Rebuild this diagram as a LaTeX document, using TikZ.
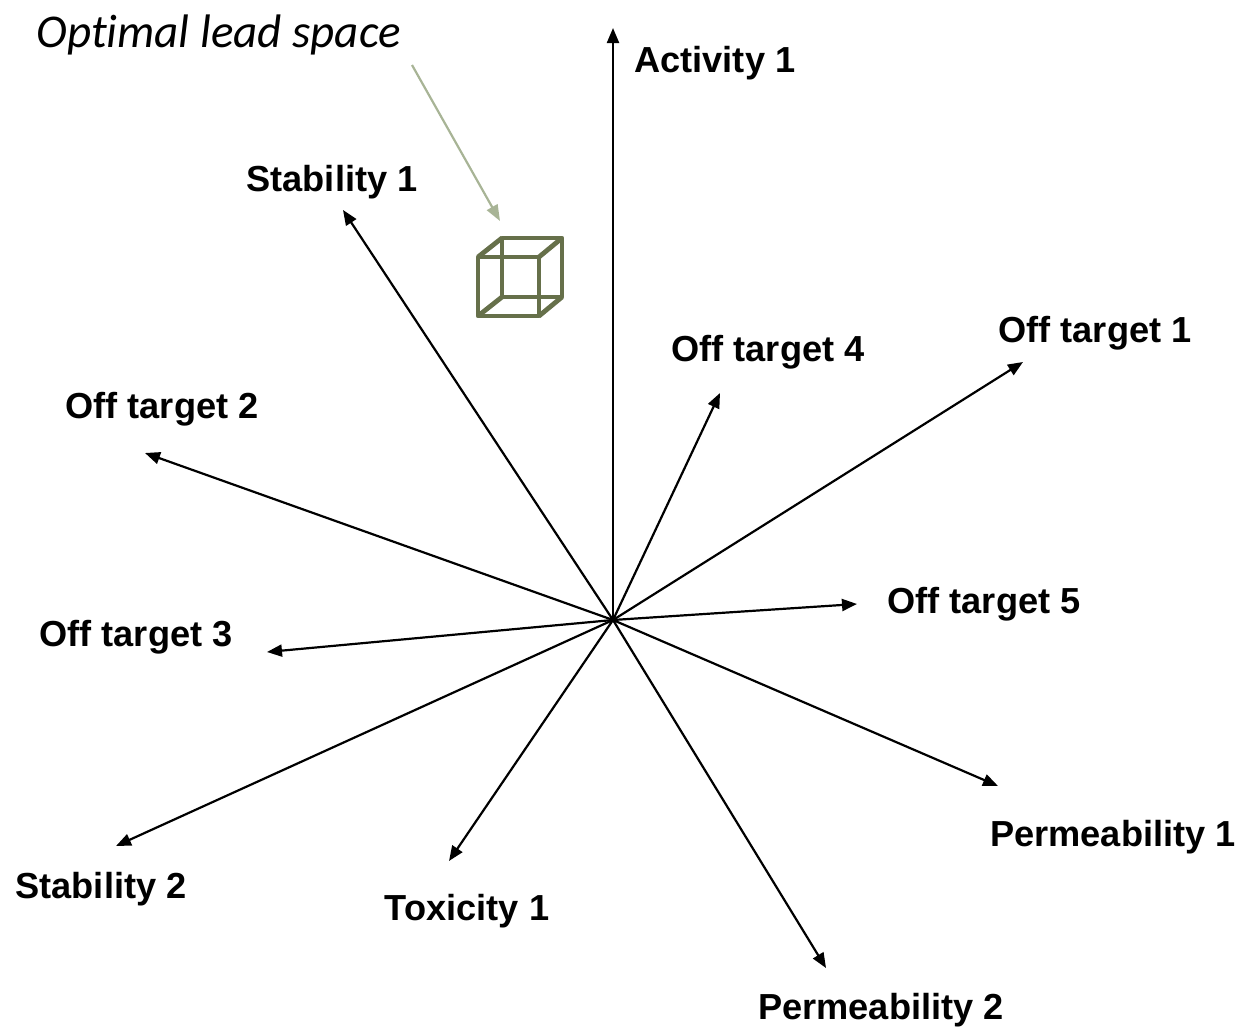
\documentclass[tikz,border=0pt]{standalone}
\usepackage{fontspec}
\setmainfont{Liberation Sans}
\newfontfamily\calib[Ligatures=NoCommon]{Carlito}
\usetikzlibrary{arrows.meta}
\tikzset{
  axis/.style={line width=1.1pt,-{Triangle[length=7.5pt,width=6pt]}},
  lbl/.style={font=\fontsize{18.1}{20}\selectfont\bfseries,inner sep=0pt},
  cubeline/.style={draw={rgb,255:red,102;green,112;blue,74},line width=2.4pt,line join=round}
}
\begin{document}
\begin{tikzpicture}[x=0.5pt,y=-0.5pt]
\useasboundingbox (0,0) rectangle (1243,1028);
\coordinate (c) at (613,620);
\coordinate (tA1) at (613,28);
\coordinate (tS1) at (343,210);
\coordinate (tO4) at (720,393);
\coordinate (tO1) at (1023,362);
\coordinate (tO2) at (145,453);
\coordinate (tO5) at (857,604);
\coordinate (tO3) at (267,652);
\coordinate (tS2) at (116,846);
\coordinate (tT1) at (449,861);
\coordinate (tP2) at (826,968);
\coordinate (tP1) at (998,786);
\foreach \t in {tA1,tS1,tO4,tO1,tO2,tO5,tO3,tS2,tT1,tP2,tP1}
  \draw[axis] (c) -- (\t);
\node[lbl,anchor=west] (A1) at (634,63) {Activity 1};
\node[lbl] (S1) at (332,182) {Stability 1};
\node[lbl] (O4) at (768,352) {Off target 4};
\node[lbl] (O1) at (1095,333) {Off target 1};
\node[lbl] (O2) at (162,409) {Off target 2};
\node[lbl] (O5) at (984,604) {Off target 5};
\node[lbl] (O3) at (136,637) {Off target 3};
\node[lbl] (S2) at (101,889) {Stability 2};
\node[lbl] (T1) at (467,911) {Toxicity 1};
\node[lbl] (P2) at (881,1010) {Permeability 2};
\node[lbl] (P1) at (1113,837) {Permeability 1};
\node[font=\calib\itshape\fontsize{23.5}{26}\selectfont,inner sep=0pt,anchor=west] (ols) at (36,35) {Optimal lead space};
% cube
\coordinate (f1) at (478,257); \coordinate (f2) at (539,257);
\coordinate (f3) at (539,316); \coordinate (f4) at (478,316);
\coordinate (b1) at (502,238); \coordinate (b2) at (562,238);
\coordinate (b3) at (562,297); \coordinate (b4) at (502,297);
\draw[cubeline] (f1)--(f2)--(f3)--(f4)--cycle;
\draw[cubeline] (b1)--(b2)--(b3)--(b4)--cycle;
\draw[cubeline] (f1)--(b1) (f2)--(b2) (f3)--(b3) (f4)--(b4);
\coordinate (cubetop) at (500,221);
\draw[line width=1.1pt,draw={rgb,255:red,168;green,180;blue,150},-{Triangle[length=8pt,width=6pt]}] (412,65) -- (cubetop);
\end{tikzpicture}
\end{document}
